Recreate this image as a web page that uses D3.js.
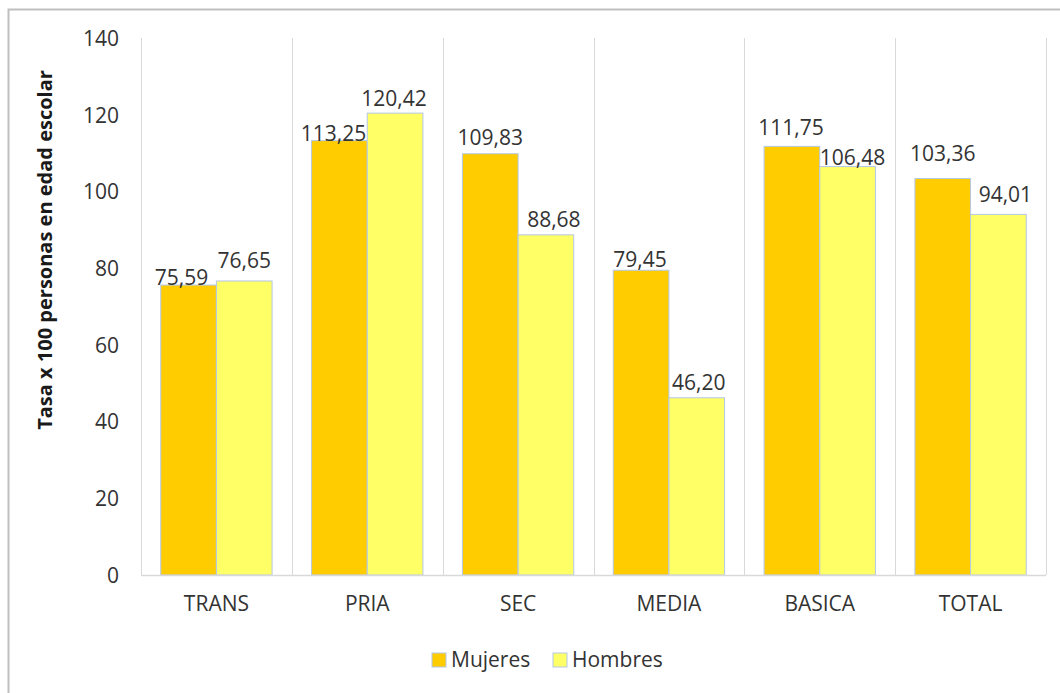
<!DOCTYPE html>
<html>
<head>
<meta charset="utf-8">
<script src="https://cdn.jsdelivr.net/npm/d3@7"></script>
<style>
  html, body { margin: 0; padding: 0; background: #fff; }
  svg { display: block; font-family: "Open Sans", "Noto Sans", sans-serif; }
</style>
</head>
<body>
<div id="chart"></div>
<script>
const categories = ["TRANS", "PRIA", "SEC", "MEDIA", "BASICA", "TOTAL"];
const seriesNames = ["Mujeres", "Hombres"];
const mujeres = [75.59, 113.25, 109.83, 79.45, 111.75, 103.36];
const hombres = [76.65, 120.42, 88.68, 46.20, 106.48, 94.01];
const yTicks = [0, 20, 40, 60, 80, 100, 120, 140];
const yTitle = "Tasa x 100 personas en edad escolar";

const W = 1060, H = 693;
const PLOT = { left: 141, right: 1046, top: 38, bottom: 575 };
const COLORS = { Mujeres: "#ffcc00", Hombres: "#ffff66" };
const BAR_STROKE = "#b4c7e7";
const TEXT = "#333333";
const FS = "21px";

// hand nudges of the value labels, as placed in the original [dx, dy]
const LABEL_NUDGE = {
  TRANS:  [[-7, 0],   [0, -13]],
  PRIA:   [[-6, 0],   [-1, -7]],
  SEC:    [[0, -9],   [8, -8]],
  MEDIA:  [[-1, -3],  [2, -8]],
  BASICA: [[-1, -11], [5, -2]],
  TOTAL:  [[0, -18],  [7, -12]]
};

const rows = categories.map((c, i) => ({ cat: c, values: [mujeres[i], hombres[i]] }));
const fmt = d3.formatLocale({ decimal: ",", thousands: ".", grouping: [3], currency: ["", ""] }).format(".2f");

const svg = d3.select("#chart").append("svg")
  .attr("width", W).attr("height", H);

// outer chart border (cropped on right/bottom)
svg.append("path")
  .attr("d", `M8.5,${H + 2} V9.5 H${W + 2}`)
  .attr("fill", "none")
  .attr("stroke", "#bfbfbf")
  .attr("stroke-width", 2);

const x0 = d3.scaleBand().domain(categories).range([PLOT.left, PLOT.right]).padding(0);
const x1 = d3.scaleBand().domain(seriesNames).range([0, x0.bandwidth()])
  .paddingInner(0).paddingOuter(0.355);
const y = d3.scaleLinear().domain([0, 140]).range([PLOT.bottom, PLOT.top]);

// vertical category gridlines
const bounds = categories.map(c => x0(c)).concat([PLOT.right]);
svg.append("g").selectAll("line").data(bounds).join("line")
  .attr("x1", d => Math.round(d) + 0.5).attr("x2", d => Math.round(d) + 0.5)
  .attr("y1", y(140)).attr("y2", y(0))
  .attr("stroke", "#d9d9d9").attr("stroke-width", 1);

// bars
const groups = svg.append("g").selectAll("g").data(rows).join("g")
  .attr("transform", d => `translate(${x0(d.cat)},0)`);

groups.selectAll("rect")
  .data(d => d.values.map((v, j) => ({ cat: d.cat, s: seriesNames[j], j, v })))
  .join("rect")
  .attr("x", d => x1(d.s))
  .attr("y", d => y(d.v))
  .attr("width", x1.bandwidth())
  .attr("height", d => y(0) - y(d.v))
  .attr("fill", d => COLORS[d.s])
  .attr("stroke", BAR_STROKE)
  .attr("stroke-width", 1);

// value labels
groups.selectAll("text.val")
  .data(d => d.values.map((v, j) => ({ cat: d.cat, s: seriesNames[j], j, v })))
  .join("text")
  .attr("class", "val")
  .attr("x", d => x1(d.s) + x1.bandwidth() / 2 + LABEL_NUDGE[d.cat][d.j][0])
  .attr("y", d => y(d.v) + LABEL_NUDGE[d.cat][d.j][1])
  .attr("text-anchor", "middle")
  .attr("font-size", FS)
  .attr("fill", TEXT)
  .text(d => fmt(d.v));

// baseline
svg.append("line")
  .attr("x1", PLOT.left).attr("x2", PLOT.right)
  .attr("y1", y(0) + 0.5).attr("y2", y(0) + 0.5)
  .attr("stroke", "#d9d9d9").attr("stroke-width", 1.5);

// y axis (labels only)
const yAxis = svg.append("g")
  .attr("transform", `translate(${PLOT.left - 22},0)`)
  .call(d3.axisLeft(y).tickValues(yTicks).tickSize(0).tickPadding(0));
yAxis.select(".domain").remove();
yAxis.selectAll("text")
  .attr("font-family", "Open Sans, sans-serif")
  .attr("font-size", FS)
  .attr("fill", TEXT)
  .attr("dy", "0.35em");

// x axis (labels only)
const xAxis = svg.append("g")
  .attr("transform", `translate(0,${PLOT.bottom})`)
  .call(d3.axisBottom(x0).tickSize(0).tickPadding(0));
xAxis.select(".domain").remove();
xAxis.selectAll("text")
  .attr("font-family", "Open Sans, sans-serif")
  .attr("font-size", FS)
  .attr("fill", TEXT)
  .attr("dy", "1.72em");

// y title
svg.append("text")
  .attr("transform", "translate(52,250) rotate(-90)")
  .attr("text-anchor", "middle")
  .attr("font-size", "20px")
  .attr("font-weight", 700)
  .attr("fill", "#1a1a1a")
  .text(yTitle);

// legend
const legend = svg.append("g").attr("transform", "translate(432,660)");
const legendX = [0, 121];
seriesNames.forEach((s, i) => {
  const g = legend.append("g").attr("transform", `translate(${legendX[i]},0)`);
  g.append("rect")
    .attr("x", 0).attr("y", -7)
    .attr("width", 14).attr("height", 14)
    .attr("fill", COLORS[s])
    .attr("stroke", BAR_STROKE);
  g.append("text")
    .attr("x", 19).attr("y", 0)
    .attr("dy", "0.35em")
    .attr("font-size", FS)
    .attr("fill", TEXT)
    .text(s);
});
</script>
</body>
</html>
